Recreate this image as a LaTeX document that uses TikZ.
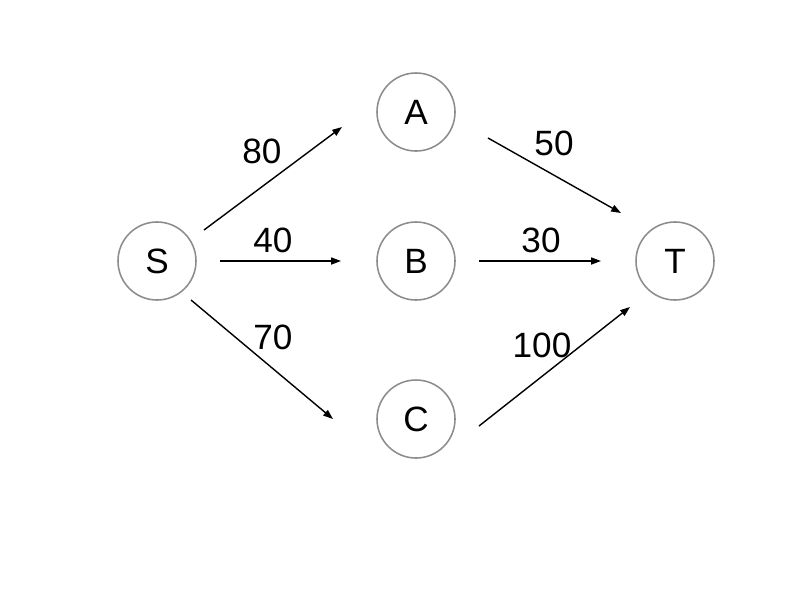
\documentclass[tikz,border=0pt]{standalone}
\usepackage{fontspec}
\setmainfont{Liberation Sans}
\usetikzlibrary{arrows.meta}
\definecolor{ring}{HTML}{8C8C8C}

\begin{document}
\begin{tikzpicture}[x=0.025cm,y=-0.025cm,
  vertex/.style={draw=ring,line width=1.1pt,circle,minimum size=1.95cm,inner sep=0pt,font=\fontsize{25}{28}\selectfont},
  flow/.style={line width=1pt,-{Triangle[length=7pt,width=5pt]}},
  weight/.style={font=\fontsize{25}{28}\selectfont}]
  \useasboundingbox (0,0) rectangle (800,600);
  \foreach \n/\x/\y in {S/157/261,A/416/112,B/416/261,C/416/419,T/675/261}{
    \node[vertex] (\n) at (\x,\y) {\n};
  }
  \foreach \e/\xa/\ya/\xb/\yb/\w/\lx/\ly in {
    sa/204/230/342/127/80/262/151,
    sb/220/261/341/261/40/273/240,
    sc/191/300/333/419/70/273/337,
    at/488/138/621/213/50/554/143,
    bt/479/261/601/261/30/541/240,
    ct/479/426/630/307/100/542/345}{
    \coordinate (\e-from) at (\xa,\ya);
    \coordinate (\e-to) at (\xb,\yb);
    \draw[flow] (\e-from) -- (\e-to);
    \node[weight] (\e-w) at (\lx,\ly) {\w};
  }
\end{tikzpicture}
\end{document}
